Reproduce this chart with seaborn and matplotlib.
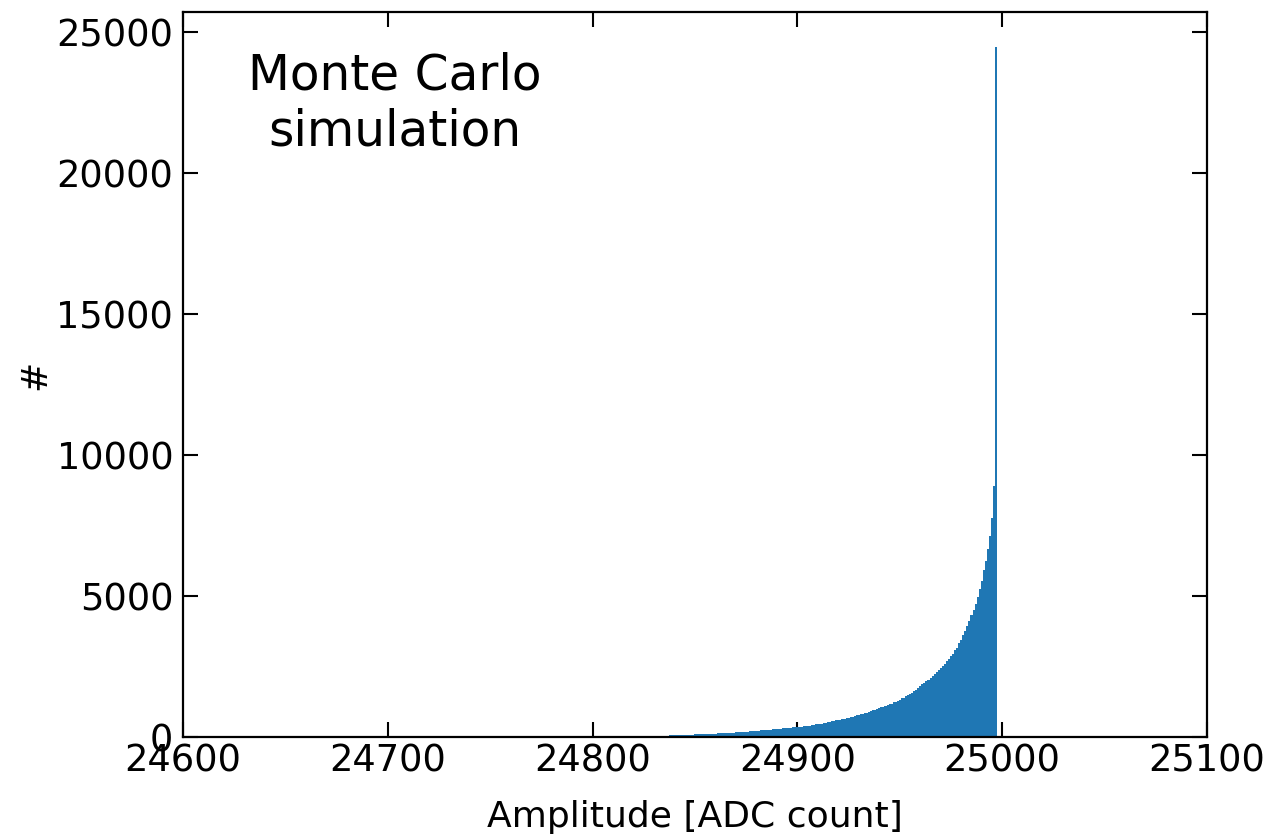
import numpy as np
import pandas as pd
import matplotlib
matplotlib.use("Agg")
import matplotlib.pyplot as plt
import seaborn as sns

# Simulated amplitude spectrum: counts per ADC code, one bin per code
first_code = 24826
counts = [
    6, 11, 16, 22,
    26, 30, 34, 37, 41, 44, 47, 50, 54, 57,
    60, 63, 66, 68, 72, 75, 78, 81, 84, 87,
    90, 93, 95, 99, 102, 104, 108, 111, 114, 117,
    120, 124, 127, 131, 134, 138, 142, 147, 151, 155,
    160, 165, 169, 175, 180, 186, 192, 198, 204, 211,
    218, 224, 231, 237, 244, 250, 257, 264, 271, 278,
    285, 291, 298, 304, 311, 317, 324, 330, 337, 344,
    350, 362, 366, 381, 386, 401, 407, 423, 428, 447,
    452, 471, 478, 499, 506, 527, 534, 556, 563, 587,
    596, 618, 628, 652, 660, 686, 695, 724, 733, 764,
    776, 806, 818, 850, 864, 898, 912, 948, 962, 998,
    1014, 1050, 1066, 1104, 1122, 1162, 1182, 1224, 1246, 1290,
    1314, 1366, 1392, 1446, 1478, 1536, 1572, 1640, 1682, 1752,
    1792, 1862, 1902, 1978, 2022, 2102, 2152, 2238, 2292, 2383,
    2442, 2532, 2592, 2688, 2758, 2860, 2942, 3070, 3172, 3318,
    3440, 3610, 3748, 3940, 4100, 4312, 4490, 4732, 4950, 5252,
    5540, 5912, 6240, 6662, 7140, 7760, 8900, 24500,
]
codes = np.arange(first_code, first_code + len(counts))
df = pd.DataFrame({"amplitude": codes, "count": counts})

x_ticks = [24600, 24700, 24800, 24900, 25000, 25100]
y_ticks = [0, 5000, 10000, 15000, 20000, 25000]

sns.set_theme(style="white")
plt.rcParams["font.family"] = ["DejaVu Sans"]
plt.rcParams["text.color"] = "black"
plt.rcParams["axes.labelcolor"] = "black"

fig = plt.figure(figsize=(12.72, 8.35), dpi=100)
ax = fig.add_axes([0.1439, 0.1174, 0.8050, 0.8682])

sns.histplot(data=df, x="amplitude", weights="count", discrete=True,
             color="#1f77b4", alpha=1.0, linewidth=0, ax=ax)

ax.set_xlim(24600, 25100)
ax.set_ylim(0, 25725)
ax.set_xticks(x_ticks)
ax.set_yticks(y_ticks)
ax.set_xticklabels([str(t) for t in x_ticks])
ax.set_yticklabels([str(t) for t in y_ticks])

ax.tick_params(axis="both", which="major", direction="in", length=11,
               width=1.5, colors="black", labelsize=26.5,
               top=True, right=True, bottom=True, left=True)
ax.tick_params(axis="x", pad=4)
ax.tick_params(axis="y", pad=7)

for side in ["left", "right", "top", "bottom"]:
    ax.spines[side].set_visible(True)
    ax.spines[side].set_color("black")
    ax.spines[side].set_linewidth(1.6)

ax.set_xlabel("Amplitude [ADC count]", fontsize=26, labelpad=15)
ax.set_ylabel("#", fontsize=26)
ax.yaxis.set_label_coords(-0.128, 0.5)

ax.text(0.207, 0.874, "Monte Carlo\nsimulation", transform=ax.transAxes,
        ha="center", va="center", multialignment="center", fontsize=35)

fig.savefig("out.png", dpi=100, facecolor="white")
